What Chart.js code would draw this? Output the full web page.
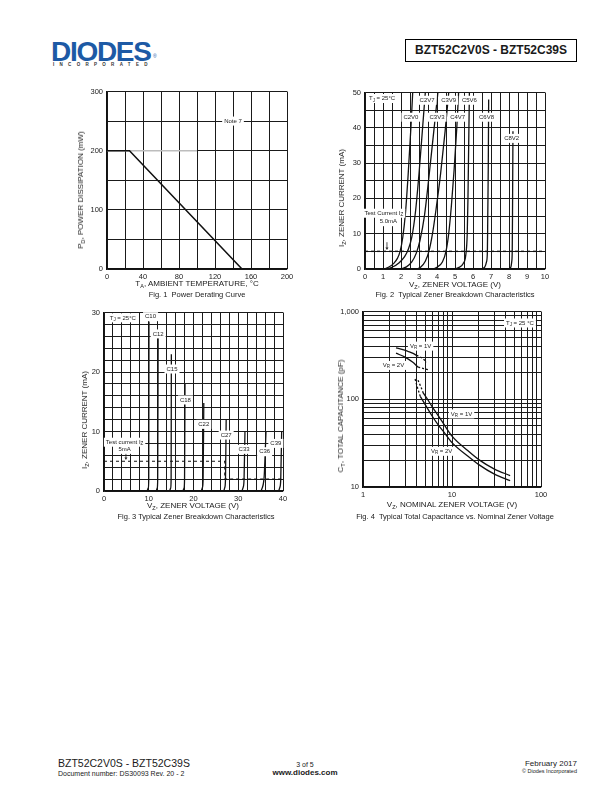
<!DOCTYPE html>
<html>
<head>
<meta charset="utf-8">
<script src="https://cdn.jsdelivr.net/npm/chart.js@4.4.1/dist/chart.umd.min.js"></script>
<style>
  body { margin: 0; background: #fff; font-family: "Liberation Sans", Arial, sans-serif; color: #1a1a1a; }
  #page { position: relative; width: 612px; height: 792px; overflow: hidden; }
  .abs { position: absolute; white-space: nowrap; line-height: 1; }
  .chart { position: absolute; }
  .ax { font-size: 8px; }
  .cap { font-size: 7.5px; }
  sub { font-size: 5.5px; vertical-align: -2px; line-height: 0; }
  .c { transform: translate(-50%, -50%); }
  .l { transform: translate(0, -50%); }
  .r { transform: translate(0, -50%); }
  .rot { transform: translate(-50%, -50%) rotate(-90deg); }
</style>
</head>
<body>
<div id="page">
  <!-- header -->
  <div class="abs" style="left:51px;top:36px;font:bold 28px 'Liberation Sans',Arial;color:#1d5aa5;letter-spacing:-1.3px">DIODES</div>
  <div class="abs" style="left:153px;top:54px;font-size:5px;color:#1d5aa5">®</div>
  <div class="abs" style="left:53px;top:62px;font:bold 4.5px 'Liberation Sans',Arial;letter-spacing:5.3px;color:#333">INCORPORATED</div>
  <div class="abs" style="left:405px;top:39px;width:170px;height:21px;border:1px solid #000;font:bold 12px 'Liberation Sans',Arial;text-align:center;line-height:21px">BZT52C2V0S - BZT52C39S</div>

  <!-- fig 1 -->
  <div class="chart" style="left:79px;top:83px"><canvas id="fig1" width="218" height="200"></canvas></div>
  <div class="abs ax rot" style="left:81px;top:190px">P<sub>D</sub>, POWER DISSIPATION (mW)</div>
  <div class="abs ax c" style="left:197px;top:284px">T<sub>A</sub>, AMBIENT TEMPERATURE, °C</div>
  <div class="abs cap c" style="left:197px;top:295px">Fig. 1&nbsp; Power Derating Curve</div>

  <!-- fig 2 -->
  <div class="chart" style="left:337px;top:84px"><canvas id="fig2" width="218" height="199"></canvas></div>
  <div class="abs ax rot" style="left:342px;top:198px">I<sub>Z</sub>, ZENER CURRENT (mA)</div>
  <div class="abs ax c" style="left:455px;top:285px">V<sub>Z</sub>, ZENER VOLTAGE (V)</div>
  <div class="abs cap c" style="left:455px;top:295px">Fig. 2&nbsp; Typical Zener Breakdown Characteristics</div>

  <!-- fig 3 -->
  <div class="chart" style="left:76px;top:304px"><canvas id="fig3" width="217" height="201"></canvas></div>
  <div class="abs ax rot" style="left:85px;top:420px">I<sub>Z</sub>, ZENER CURRENT (mA)</div>
  <div class="abs ax c" style="left:193px;top:506px">V<sub>Z</sub>, ZENER VOLTAGE (V)</div>
  <div class="abs cap c" style="left:196px;top:517px">Fig. 3 Typical Zener Breakdown Characteristics</div>

  <!-- fig 4 -->
  <div class="chart" style="left:335px;top:303px"><canvas id="fig4" width="216" height="198"></canvas></div>
  <div class="abs ax rot" style="left:341px;top:416px">C<sub>T</sub>, TOTAL CAPACITANCE (pF)</div>
  <div class="abs ax c" style="left:452px;top:505px">V<sub>Z</sub>, NOMINAL ZENER VOLTAGE (V)</div>
  <div class="abs cap c" style="left:455px;top:517px">Fig. 4&nbsp; Typical Total Capacitance vs. Nominal Zener Voltage</div>

  <!-- footer -->
  <div class="abs l" style="left:58px;top:763px;font-size:10.5px">BZT52C2V0S - BZT52C39S</div>
  <div class="abs l" style="left:58px;top:773px;font-size:7px">Document number: DS30093 Rev. 20 - 2</div>
  <div class="abs c" style="left:305px;top:764px;font-size:7px">3 of 5</div>
  <div class="abs c" style="left:305px;top:773px;font-size:8px;font-weight:bold">www.diodes.com</div>
  <div class="abs r" style="right:35px;top:764px;font-size:8px">February 2017</div>
  <div class="abs r" style="right:35px;top:772px;font-size:5.5px">© Diodes Incorporated</div>
</div>

<script>
const FONT = '"Liberation Sans", Arial, sans-serif';

// ---- Fig. 1 power derating ----
const fig1Temp = [0, 25, 150];
const fig1Power = [200, 200, 0];
const fig1RefTemp = [0, 100];
const fig1RefPower = [200, 200];
const fig1XGrid = [0, 20, 40, 60, 80, 100, 120, 140, 160, 180, 200];
const fig1XLabels = [0, 40, 80, 120, 160, 200];
const fig1YGrid = [0, 50, 100, 150, 200, 250, 300];
const fig1YLabels = [0, 100, 200, 300];

// ---- Fig. 2 zener breakdown, low voltages ----
const fig2Names = ['C2V0', 'C2V7', 'C3V3', 'C3V9', 'C4V7', 'C5V6', 'C6V8', 'C8V2'];
const fig2Volts = [
  [0, 1.0, 1.3, 1.6, 1.8, 1.95, 2.1, 2.25, 2.4, 2.55, 2.65],
  [0, 1.1, 1.5, 1.9, 2.2, 2.4, 2.6, 2.8, 3.0, 3.2, 3.35],
  [0, 1.9, 2.3, 2.6, 2.85, 3.05, 3.3, 3.55, 3.8, 4.05],
  [0, 2.8, 3.1, 3.35, 3.55, 3.75, 3.95, 4.2, 4.45, 4.65],
  [0, 3.7, 4.0, 4.3, 4.5, 4.65, 4.8, 4.95, 5.1, 5.2],
  [0, 4.9, 5.2, 5.45, 5.6, 5.68, 5.72, 5.76, 5.8],
  [0, 6.45, 6.65, 6.75, 6.8, 6.82, 6.85, 6.87],
  [0, 7.95, 8.1, 8.15, 8.18, 8.2, 8.22]
];
const fig2Amps = [
  [0, 0, 0.5, 1.6, 3, 5, 9, 16, 27, 40, 50],
  [0, 0, 0.5, 1.8, 3.5, 5.5, 9, 16, 27, 40, 50],
  [0, 0, 0.6, 2, 4.5, 8, 15, 26, 38, 50],
  [0, 0, 0.6, 2.2, 5, 10, 17, 27, 39, 50],
  [0, 0, 0.5, 2, 5, 10, 18, 28, 40, 50],
  [0, 0, 0.4, 1.5, 4, 10, 20, 35, 50],
  [0, 0, 0.5, 2, 5, 15, 30, 48],
  [0, 0, 0.5, 2, 5, 20, 39]
];
const fig2LabelV = [2.55, 3.45, 4.0, 4.65, 5.15, 5.8, 6.75, 8.15];
const fig2LabelI = [43, 47.8, 43, 47.8, 43, 47.8, 43, 37];
const fig2TestV = [0, 10];
const fig2TestI = [5, 5];
const fig2XGrid = [0, 0.5, 1, 1.5, 2, 2.5, 3, 3.5, 4, 4.5, 5, 5.5, 6, 6.5, 7, 7.5, 8, 8.5, 9, 9.5, 10];
const fig2XLabels = [0, 1, 2, 3, 4, 5, 6, 7, 8, 9, 10];
const fig2YGrid = [0, 5, 10, 15, 20, 25, 30, 35, 40, 45, 50];
const fig2YLabels = [0, 10, 20, 30, 40, 50];

// ---- Fig. 3 zener breakdown, high voltages ----
const fig3Names = ['C10', 'C12', 'C15', 'C18', 'C22', 'C27', 'C33', 'C36', 'C39'];
const fig3Volts = [
  [0, 9.6, 9.9, 10.0, 10.05],
  [0, 11.6, 11.9, 12.0, 12.1],
  [0, 14.6, 14.9, 15.0, 15.05],
  [0, 17.5, 17.9, 18.0, 18.1],
  [0, 21.6, 22.0, 22.15, 22.3],
  [0, 26.6, 27.0, 27.15, 27.3],
  [0, 30.6, 31.1, 31.3, 31.5],
  [0, 34.8, 35.4, 35.8, 36.0, 36.2],
  [0, 38.8, 39.3, 39.5, 39.7]
];
const fig3Amps = [
  [0, 0, 0.5, 2, 28.5],
  [0, 0, 0.5, 2, 26.5],
  [0, 0, 0.5, 2, 23],
  [0, 0, 0.5, 2, 18],
  [0, 0, 0.6, 2, 14.8],
  [0, 0, 0.6, 2, 12],
  [0, 0, 0.6, 2, 10],
  [0, 0, 0.6, 2.5, 6, 10],
  [0, 0, 0.6, 2, 10]
];
const fig3LabelV = [10.4, 12.1, 15.2, 18.2, 22.3, 27.3, 31.3, 35.9, 38.4];
const fig3LabelI = [29.3, 26.4, 20.5, 15.3, 11.2, 9.4, 7.0, 6.6, 8.0];
const fig3TestV = [0, 27, 27, 40];
const fig3TestI = [5, 5, 2, 2];
const fig3XGrid = [0, 2, 4, 6, 8, 10, 12, 14, 16, 18, 20, 22, 24, 26, 28, 30, 32, 34, 36, 38, 40];
const fig3XLabels = [0, 10, 20, 30, 40];
const fig3YGrid = [0, 2, 4, 6, 8, 10, 12, 14, 16, 18, 20, 22, 24, 26, 28, 30];
const fig3YLabels = [0, 10, 20, 30];

// ---- Fig. 4 total capacitance ----
const fig4Vr1UpperV = [2.35, 3.0, 3.6, 4.0];
const fig4Vr1UpperC = [386, 360, 335, 316];
const fig4Vr1UpperDotV = [4.0, 4.6, 5.2];
const fig4Vr1UpperDotC = [316, 295, 265];
const fig4Vr2UpperV = [2.35, 3.0, 3.6, 4.17];
const fig4Vr2UpperC = [335, 300, 265, 232];
const fig4Vr2UpperDotV = [4.17, 4.8, 5.4];
const fig4Vr2UpperDotC = [232, 224, 217];
const fig4Vr1LowerDotV = [4.15, 4.45, 4.75];
const fig4Vr1LowerDotC = [165, 140, 118];
const fig4Vr1LowerV = [4.75, 5.2, 6, 7, 8, 10, 15, 20, 30, 45];
const fig4Vr1LowerC = [118, 103, 82, 65, 53, 38, 26, 20.5, 16, 13.5];
const fig4Vr2LowerDotV = [3.85, 4.1, 4.4];
const fig4Vr2LowerDotC = [170, 135, 108];
const fig4Vr2LowerV = [4.4, 5, 6, 7, 8, 10, 15, 20, 30, 45];
const fig4Vr2LowerC = [108, 87, 64, 51, 43, 32, 22.5, 18, 14, 11.8];
const fig4XGrid = [1, 2, 3, 4, 5, 6, 7, 8, 9, 10, 20, 30, 40, 50, 60, 70, 80, 90, 100];
const fig4XLabels = [1, 10, 100];
const fig4YGrid = [10, 20, 30, 40, 50, 60, 70, 80, 90, 100, 200, 300, 400, 500, 600, 700, 800, 900, 1000];
const fig4YLabels = [10, 100, 1000];

function pts(xs, ys) {
  return xs.map((x, i) => ({ x: x, y: ys[i] }));
}

function line(xs, ys, opts) {
  return Object.assign({
    data: pts(xs, ys),
    showLine: true,
    pointRadius: 0,
    borderColor: '#111',
    borderWidth: 1.3,
    cubicInterpolationMode: 'monotone',
    fill: false
  }, opts || {});
}

function axis(pos, type, min, max, grid, labels, fmt) {
  return {
    type: type,
    position: pos,
    min: min,
    max: max,
    afterBuildTicks: s => { s.ticks = grid.map(v => ({ value: v })); },
    afterFit: s => {
      if (pos === 'left') s.width = 28; else s.height = 14;
    },
    grid: { color: '#1a1a1a', lineWidth: 1, drawTicks: false },
    border: { color: '#111', width: 1.2 },
    ticks: {
      autoSkip: false,
      maxRotation: 0,
      padding: pos === 'left' ? 4 : 3,
      color: '#222',
      font: { family: FONT, size: 7.5 },
      major: { enabled: false },
      callback: v => labels.includes(v) ? fmt(v) : ''
    }
  };
}

// text like "T{J} = 25°C" -> braces mark a subscript
function drawRich(ctx, cx, cy, text) {
  const parts = [];
  text.replace(/\{([^}]*)\}|([^{]+)/g, (m, sub, norm) => {
    parts.push(sub !== undefined ? [sub, true] : [norm, false]);
    return m;
  });
  const big = '6px ' + FONT, small = '4.5px ' + FONT;
  let w = 0;
  parts.forEach(p => {
    ctx.font = p[1] ? small : big;
    p.push(ctx.measureText(p[0]).width);
    w += p[2];
  });
  ctx.fillStyle = '#fff';
  ctx.fillRect(cx - w / 2 - 2, cy - 4.5, w + 4, 9);
  ctx.fillStyle = '#222';
  ctx.textAlign = 'left';
  ctx.textBaseline = 'middle';
  let x = cx - w / 2;
  parts.forEach(p => {
    ctx.font = p[1] ? small : big;
    ctx.fillText(p[0], x, p[1] ? cy + 1.8 : cy);
    x += p[2];
  });
}

function labelPlugin(items, arrows) {
  return {
    id: 'figLabels',
    afterDatasetsDraw(chart) {
      const ctx = chart.ctx, xs = chart.scales.x, ys = chart.scales.y;
      ctx.save();
      (arrows || []).forEach(a => {
        const px = xs.getPixelForValue(a.x);
        const p1 = ys.getPixelForValue(a.from), p2 = ys.getPixelForValue(a.to);
        ctx.strokeStyle = '#222';
        ctx.fillStyle = '#222';
        ctx.lineWidth = 0.8;
        ctx.beginPath(); ctx.moveTo(px, p1); ctx.lineTo(px, p2 - 2); ctx.stroke();
        ctx.beginPath(); ctx.moveTo(px - 1.5, p2 - 2.5); ctx.lineTo(px + 1.5, p2 - 2.5); ctx.lineTo(px, p2); ctx.closePath(); ctx.fill();
      });
      items.forEach(it => drawRich(ctx, xs.getPixelForValue(it.x), ys.getPixelForValue(it.y), it.text));
      ctx.restore();
    }
  };
}

function makeChart(id, datasets, xAxis, yAxis, items, arrows) {
  return new Chart(document.getElementById(id), {
    type: 'scatter',
    data: { datasets: datasets },
    options: {
      responsive: false,
      animation: false,
      events: [],
      layout: { padding: { top: 8, right: 10, left: 0, bottom: 0 } },
      plugins: { legend: { display: false }, tooltip: { enabled: false } },
      scales: { x: xAxis, y: yAxis }
    },
    plugins: [labelPlugin(items, arrows)]
  });
}

const num = v => String(v);

// Fig. 1
makeChart('fig1',
  [
    line(fig1Temp, fig1Power, { cubicInterpolationMode: 'default', tension: 0, borderWidth: 1.5 }),
    line(fig1RefTemp, fig1RefPower, { cubicInterpolationMode: 'default', tension: 0, borderColor: '#bdbdbd', borderWidth: 1.5 })
  ],
  axis('bottom', 'linear', 0, 200, fig1XGrid, fig1XLabels, num),
  axis('left', 'linear', 0, 300, fig1YGrid, fig1YLabels, num),
  [{ x: 140, y: 250, text: 'Note 7' }]
);

// Fig. 2
const fig2Sets = fig2Names.map((n, i) => line(fig2Volts[i], fig2Amps[i], { label: n }));
fig2Sets.push(line(fig2TestV, fig2TestI, { cubicInterpolationMode: 'default', tension: 0, borderDash: [3, 3], borderWidth: 1.4 }));
makeChart('fig2', fig2Sets,
  axis('bottom', 'linear', 0, 10, fig2XGrid, fig2XLabels, num),
  axis('left', 'linear', 0, 50, fig2YGrid, fig2YLabels, num),
  [{ x: 0.95, y: 48.3, text: 'T{J} = 25°C' },
   { x: 1.05, y: 15.8, text: 'Test Current I{Z}' },
   { x: 1.3, y: 13.4, text: '5.0mA' }]
    .concat(fig2Names.map((n, i) => ({ x: fig2LabelV[i], y: fig2LabelI[i], text: n }))),
  [{ x: 1.22, from: 7.6, to: 5.4 }]
);

// Fig. 3
const fig3Sets = fig3Names.map((n, i) => line(fig3Volts[i], fig3Amps[i], { label: n }));
fig3Sets.push(line(fig3TestV, fig3TestI, { cubicInterpolationMode: 'default', tension: 0, borderDash: [3, 3], borderWidth: 1.2 }));
makeChart('fig3', fig3Sets,
  axis('bottom', 'linear', 0, 40, fig3XGrid, fig3XLabels, num),
  axis('left', 'linear', 0, 30, fig3YGrid, fig3YLabels, num),
  [{ x: 4.2, y: 29.1, text: 'T{J} = 25°C' },
   { x: 4.6, y: 8.2, text: 'Test current I{Z}' },
   { x: 4.6, y: 7.0, text: '5mA' }]
    .concat(fig3Names.map((n, i) => ({ x: fig3LabelV[i], y: fig3LabelI[i], text: n }))),
  [{ x: 4.9, from: 6.4, to: 5.2 }]
);

// Fig. 4
const dotted = { borderDash: [2, 2], borderWidth: 1.3 };
makeChart('fig4',
  [
    line(fig4Vr1UpperV, fig4Vr1UpperC),
    line(fig4Vr1UpperDotV, fig4Vr1UpperDotC, dotted),
    line(fig4Vr2UpperV, fig4Vr2UpperC),
    line(fig4Vr2UpperDotV, fig4Vr2UpperDotC, dotted),
    line(fig4Vr1LowerDotV, fig4Vr1LowerDotC, dotted),
    line(fig4Vr1LowerV, fig4Vr1LowerC),
    line(fig4Vr2LowerDotV, fig4Vr2LowerDotC, dotted),
    line(fig4Vr2LowerV, fig4Vr2LowerC)
  ],
  axis('bottom', 'logarithmic', 1, 100, fig4XGrid, fig4XLabels, num),
  axis('left', 'logarithmic', 10, 1000, fig4YGrid, fig4YLabels, v => v.toLocaleString('en-US')),
  [{ x: 58, y: 740, text: 'T{J} = 25 °C' },
   { x: 4.44, y: 403, text: 'V{R} = 1V' },
   { x: 2.2, y: 243, text: 'V{R} = 2V' },
   { x: 12.8, y: 68, text: 'V{R} = 1V' },
   { x: 7.65, y: 25.5, text: 'V{R} = 2V' }]
);
</script>
</body>
</html>
